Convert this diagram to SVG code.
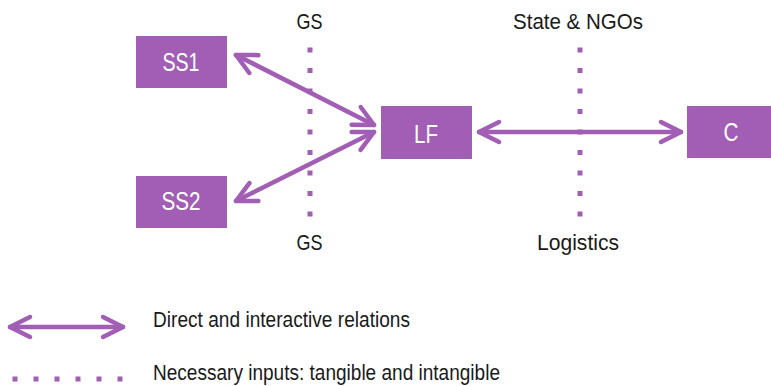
<svg xmlns="http://www.w3.org/2000/svg" width="771" height="386" viewBox="0 0 771 386">
<style>
.box{fill:#A25EB4}
.bl{font-family:"Liberation Sans",Arial,sans-serif;font-size:25px;fill:#ffffff;text-anchor:middle}
.lab{font-family:"Liberation Sans",Arial,sans-serif;font-size:22px;fill:#1a1a1a}
.arr{stroke:#A25EB4;stroke-width:4.5;fill:none;stroke-linecap:round;marker-start:url(#ah);marker-end:url(#ah)}
.dot{stroke:#A25EB4;stroke-width:5;fill:none}
</style>
<defs>
<marker id="ah" markerUnits="userSpaceOnUse" viewBox="-26 -15 30 30" refX="0" refY="0" markerWidth="30" markerHeight="30" orient="auto-start-reverse">
<path d="M-20,-10 L0,0 L-20,10" fill="none" stroke="#A25EB4" stroke-width="4.5" stroke-linecap="round" stroke-linejoin="round"/>
</marker>
</defs>
<g id="inputs">
<line class="dot" x1="310" y1="47.5" x2="310" y2="216.5" stroke-dasharray="5 15.5"/>
<line class="dot" x1="580" y1="47.5" x2="580" y2="216.5" stroke-dasharray="5 15.5"/>
<text class="lab" x="296.5" y="29" textLength="26" lengthAdjust="spacingAndGlyphs">GS</text>
<text class="lab" x="513" y="29" textLength="130" lengthAdjust="spacingAndGlyphs">State &amp; NGOs</text>
<text class="lab" x="296.5" y="250" textLength="26" lengthAdjust="spacingAndGlyphs">GS</text>
<text class="lab" x="537" y="250" textLength="82" lengthAdjust="spacingAndGlyphs">Logistics</text>
</g>
<g id="connectors">
<line class="arr" x1="236" y1="55" x2="374" y2="125"/>
<line class="arr" x1="236" y1="201" x2="374" y2="132"/>
<line class="arr" x1="479" y1="132" x2="681" y2="132"/>
</g>
<g id="SS1"><rect class="box" x="136" y="36" width="91" height="52"/><text class="bl" x="181" y="71" textLength="37" lengthAdjust="spacingAndGlyphs">SS1</text></g>
<g id="SS2"><rect class="box" x="136" y="176" width="91" height="52"/><text class="bl" x="181" y="210" textLength="39" lengthAdjust="spacingAndGlyphs">SS2</text></g>
<g id="LF"><rect class="box" x="381" y="106" width="91" height="53"/><text class="bl" x="426" y="143" textLength="24" lengthAdjust="spacingAndGlyphs">LF</text></g>
<g id="C"><rect class="box" x="687" y="106" width="84" height="52"/><text class="bl" x="731" y="141" textLength="15" lengthAdjust="spacingAndGlyphs">C</text></g>
<g id="legend">
<line class="arr" x1="10" y1="327" x2="123" y2="327"/>
<line class="dot" x1="12.5" y1="379" x2="122.5" y2="379" stroke-dasharray="5 16"/>
<text class="lab" x="153" y="327" textLength="257" lengthAdjust="spacingAndGlyphs">Direct and interactive relations</text>
<text class="lab" x="153" y="380" textLength="347" lengthAdjust="spacingAndGlyphs">Necessary inputs: tangible and intangible</text>
</g>
</svg>
